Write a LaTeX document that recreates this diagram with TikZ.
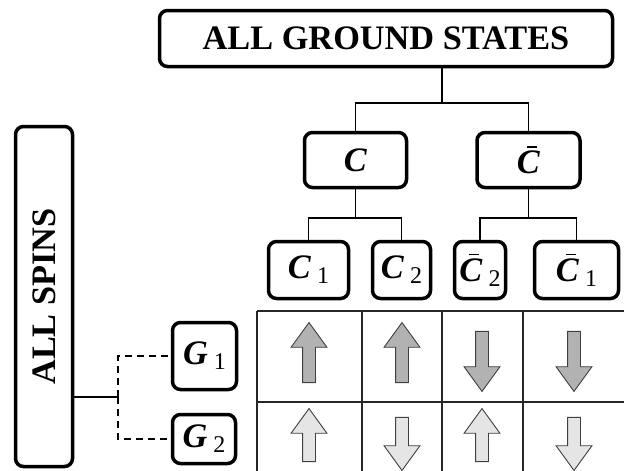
\documentclass[tikz,border=0pt]{standalone}
\usepackage{fontspec}
\setmainfont{Liberation Serif}
\usetikzlibrary{shapes,positioning,calc}

\newcommand{\barC}{\makebox[0pt][l]{\hspace{10pt}\raisebox{26pt}{\rule{10pt}{1.8pt}}}\textbf{\textit{C}}}
\newcommand{\sublbl}[2]{\textbf{\textit{#1}}\hspace{6pt}\raisebox{-5pt}{\fontsize{24}{24}\selectfont\mdseries #2}}

\begin{document}
\begin{tikzpicture}[x=1pt,y=-1pt,
    box/.style={rectangle, draw, line width=3.5pt, rounded corners=8pt,
                inner sep=0pt, font=\fontsize{34.3}{40}\selectfont\bfseries},
    link/.style={line width=1.8pt},
    grid/.style={line width=1.2pt, black!85},
    spin/.style={single arrow, draw=black!75, line width=0.9pt, inner sep=6pt,
                 single arrow head extend=11.5pt, single arrow tip angle=72},
    upspin/.style={spin, shape border rotate=90},
    downspin/.style={spin, shape border rotate=270}]

    \useasboundingbox (0,0) rectangle (624,471);

    % tree of ground states
    \node [box, minimum width=453, minimum height=56] (all) at (386,38.5) {ALL GROUND STATES};
    \node [box, minimum width=102, minimum height=55] (c) at (355.5,160) {\textbf{\textit{C}}};
    \node [box, minimum width=103, minimum height=55] (cb) at (528.5,160) {\barC};

    \node [box, minimum width=80, minimum height=57] (c1) at (308.5,270) {\sublbl{C}{1}};
    \node [box, minimum width=58, minimum height=57] (c2) at (401.5,270) {\sublbl{C}{2}};
    \node [box, minimum width=51, minimum height=57] (cb2) at (480,270) {\sublbl{\barC}{2}};
    \node [box, minimum width=84, minimum height=57] (cb1) at (576.5,270) {\sublbl{\barC}{1}};

    \coordinate (jtop) at (442,103);
    \coordinate (jc) at (355.5,218);
    \coordinate (jcb) at (528.5,218);

    \draw [link] (jtop |- all.south) -- (jtop);
    \draw [link] (c.north) |- (jtop) -| (cb.north);
    \draw [link] (c.south) -- (jc);
    \draw [link] (c1.north) |- (jc) -| (c2.north);
    \draw [link] (cb.south) -- (jcb);
    \draw [link] (cb2.north) |- (jcb) -| (cb1.north);

    % all spins and the two groups
    \node [box, rotate=90, minimum width=340, minimum height=57] (spins) at (44,296.5) {ALL SPINS};
    \node [box, minimum width=64, minimum height=67] (g1) at (204.5,356) {\sublbl{G}{1}};
    \node [box, minimum width=63, minimum height=49] (g2) at (204,439) {\sublbl{G}{2}};

    \coordinate (jg) at (118,397);
    \draw [link] (spins.south |- jg) -- (jg);
    \draw [link, dash pattern=on 7pt off 5pt] (jg) |- (g1.west);
    \draw [link, dash pattern=on 7pt off 5pt] (jg) |- (g2.west);

    % table of spins
    \draw [grid] (257,311) -- (624,311);
    \draw [grid] (257,402) -- (624,402);
    \foreach \x in {257,362,442,523}
        \draw [grid] (\x,311) -- (\x,471);

    \node [upspin, fill=black!30, minimum height=60] (a1) at (309,357) {};
    \node [upspin, fill=black!30, minimum height=60] (a2) at (402,357) {};
    \node [downspin, fill=black!30, minimum height=60] (a3) at (482,357) {};
    \node [downspin, fill=black!30, minimum height=60] (a4) at (574,357) {};

    \node [upspin, fill=black!10, minimum height=53] (b1) at (309,439.5) {};
    \node [downspin, fill=black!10, minimum height=53] (b2) at (402,439.5) {};
    \node [upspin, fill=black!10, minimum height=53] (b3) at (482,439.5) {};
    \node [downspin, fill=black!10, minimum height=53] (b4) at (574,439.5) {};
\end{tikzpicture}
\end{document}
